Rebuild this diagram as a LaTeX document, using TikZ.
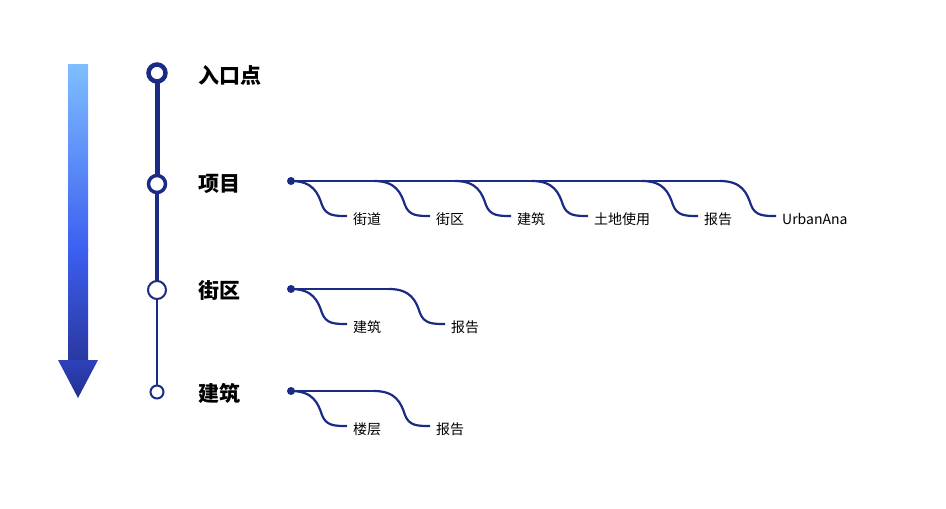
\documentclass[tikz,border=0pt]{standalone}
\usepackage{fontspec}
\newfontfamily\cjk{Noto Sans CJK SC}
\usetikzlibrary{calc}
\definecolor{navy}{HTML}{1B2A85}
\begin{document}
\begin{tikzpicture}[x=1pt,y=-1pt,
  title/.style={anchor=west,font=\cjk\bfseries\fontsize{21}{24}\selectfont,inner sep=0},
  leaf/.style={anchor=west,font=\cjk\fontsize{14}{16}\selectfont,inner sep=0},
  br/.style={navy,line width=2.2pt}]
\useasboundingbox (0,0) rectangle (946,509);
% gradient arrow
\shade[top color={rgb,255:red,127;green,190;blue,255},bottom color={rgb,255:red,60;green,95;blue,240}] (68,64) rectangle (88,250);
\shade[top color={rgb,255:red,60;green,95;blue,240},bottom color={rgb,255:red,42;green,55;blue,160}] (68,249.5) rectangle (88,361);
\shade[top color={rgb,255:red,45;green,65;blue,185},bottom color={rgb,255:red,36;green,48;blue,145}] (58,360) -- (98,360) -- (78,398) -- cycle;
% timeline
\coordinate (t1) at (157,73);
\coordinate (t2) at (157,184);
\coordinate (t3) at (157,290);
\coordinate (t4) at (157,392);
\draw[navy,line width=5pt] (t1) -- (t2);
\draw[navy,line width=3.5pt] (t2) -- (t3);
\draw[navy,line width=2.2pt] (t3) -- (t4);
\draw[navy,line width=4.5pt,fill=white] (t1) circle (8.5);
\draw[navy,line width=3.5pt,fill=white] (t2) circle (8.5);
\draw[navy,line width=2pt,fill=white] (t3) circle (9);
\draw[navy,line width=2pt,fill=white] (t4) circle (6.5);
\node[title] (n1) at (198,75) {入口点};
\node[title] (n2) at (198,184) {项目};
\node[title] (n3) at (198,291) {街区};
\node[title] (n4) at (198,393) {建筑};
% branch macro
\newcommand\leafbranch[4]{% y, label x, last flag(unused), text
  \draw[br] (#2-62,#1) .. controls (#2-40,#1) and (#2-35,#1+12) .. (#2-31,#1+24)
     .. controls (#2-27,#1+35) and (#2-18,#1+35) .. (#2-6,#1+35);
  \node[leaf] at (#2,#1+38) {#4};}
% project
\fill[navy] (291,181) circle (4);
\draw[br] (291,181) -- (720,181);
\leafbranch{181}{353}{}{街道}
\leafbranch{181}{436}{}{街区}
\leafbranch{181}{517}{}{建筑}
\leafbranch{181}{594}{}{土地使用}
\leafbranch{181}{704}{}{报告}
\node[leaf] at (782,219) {UrbanAna};
\draw[br] (720,181) .. controls (742,181) and (747,193) .. (751,205) .. controls (755,216) and (764,216) .. (776,216);
% block
\fill[navy] (291,289) circle (4);
\draw[br] (291,289) -- (389,289);
\leafbranch{289}{353}{}{建筑}
\leafbranch{289}{451}{}{报告}
% building
\fill[navy] (291,391) circle (4);
\draw[br] (291,391) -- (374,391);
\leafbranch{391}{353}{}{楼层}
\leafbranch{391}{436}{}{报告}
\end{tikzpicture}
\end{document}
